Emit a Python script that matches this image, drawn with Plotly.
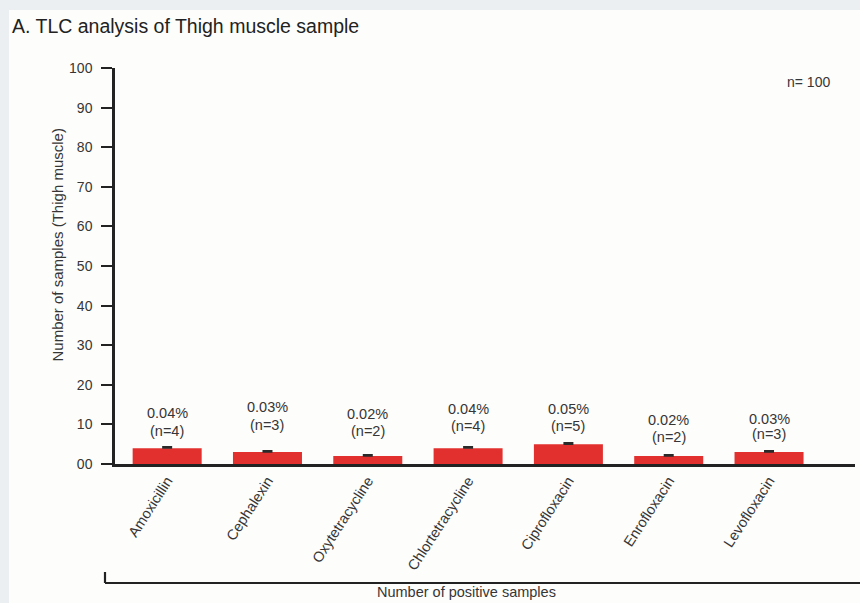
import plotly.graph_objects as go

# Antibiotic residues detected by TLC in thigh-muscle samples
drugs = ["Amoxicillin", "Cephalexin", "Oxytetracycline", "Chlortetracycline",
         "Ciprofloxacin", "Enrofloxacin", "Levofloxacin"]
positives = [4, 3, 2, 4, 5, 2, 3]
pct_labels = ["0.04%", "0.03%", "0.02%", "0.04%", "0.05%", "0.02%", "0.03%"]
err = [0.35, 0.35, 0.35, 0.35, 0.35, 0.35, 0.35]
y_ticks = [0, 10, 20, 30, 40, 50, 60, 70, 80, 90, 100]
y_ticktext = ["00", "10", "20", "30", "40", "50", "60", "70", "80", "90", "100"]

# label offsets above each bar top (px): percent line, count line
pct_lift = [35, 45, 42, 39, 35, 36, 33]
n_lift = [17, 27, 25, 22, 18, 19, 18]

W, H = 860, 603
L, R, T, B = 115, 5, 68, 139
PW, PH = W - L - R, H - T - B


def px(x):
    return (x - L) / PW


def py(y):
    return (H - B - y) / PH


FONT = "Liberation Sans, Arial, Helvetica, sans-serif"
INK = "#363636"
AX = "#222222"

fig = go.Figure()
fig.add_trace(go.Bar(
    x=list(range(len(drugs))),
    y=positives,
    width=0.688,
    marker=dict(color="#e2302e", line=dict(width=0)),
    error_y=dict(type="data", symmetric=False, array=err,
                 arrayminus=[0] * len(err), color="#2a2a2a", thickness=1.4, width=5),
    hoverinfo="skip",
))

annotations = []
for i, (v, p, lp, ln) in enumerate(zip(positives, pct_labels, pct_lift, n_lift)):
    annotations.append(dict(x=i, y=v, xref="x", yref="y", text=p, showarrow=False,
                            yanchor="middle", yshift=lp,
                            font=dict(family=FONT, size=14.5, color=INK)))
    annotations.append(dict(x=i, y=v, xref="x", yref="y", text=f"(n={v})", showarrow=False,
                            yanchor="middle", yshift=ln,
                            font=dict(family=FONT, size=14.5, color=INK)))

annotations += [
    dict(x=px(10), y=py(26), xref="paper", yref="paper", xanchor="left", yanchor="middle",
         text="A. TLC analysis of Thigh muscle sample", showarrow=False,
         font=dict(family=FONT, size=19.5, color="#222222")),
    dict(x=px(808), y=py(82), xref="paper", yref="paper", xanchor="center", yanchor="middle",
         text="n= 100", showarrow=False, font=dict(family=FONT, size=14, color=INK)),
    dict(x=px(56.5), y=py(245), xref="paper", yref="paper", xanchor="center", yanchor="middle",
         text="Number of samples (Thigh muscle)", textangle=-90, showarrow=False,
         font=dict(family=FONT, size=15, color=INK)),
    dict(x=px(466), y=py(602), xref="paper", yref="paper", xanchor="center", yanchor="bottom",
         text="Number of positive samples", showarrow=False,
         font=dict(family=FONT, size=14.5, color=INK)),
]

shapes = [
    # white page panel inside the grey frame
    dict(type="rect", xref="paper", yref="paper", x0=px(9), x1=px(W + 5),
         y0=py(H + 5), y1=py(10), fillcolor="#fdfdfb", line=dict(width=0), layer="below"),
    # bracket under the category labels
    dict(type="line", xref="paper", yref="paper", x0=px(105), x1=px(W + 5),
         y0=py(583), y1=py(583), line=dict(color=AX, width=2.2)),
    dict(type="line", xref="paper", yref="paper", x0=px(105), x1=px(105),
         y0=py(572), y1=py(583), line=dict(color=AX, width=2.2)),
]

fig.update_layout(
    width=W, height=H,
    margin=dict(l=L, r=R, t=T, b=B),
    paper_bgcolor="#eceff2",
    plot_bgcolor="#fdfdfb",
    showlegend=False,
    annotations=annotations,
    shapes=shapes,
    xaxis=dict(
        range=[-0.52, 6.857],
        tickmode="array", tickvals=list(range(len(drugs))), ticktext=drugs,
        tickangle=-57, ticks="", showgrid=False, zeroline=False,
        showline=True, linecolor=AX, linewidth=2.5,
        tickfont=dict(family=FONT, size=14.5, color=INK),
    ),
    yaxis=dict(
        range=[0, 100],
        tickmode="array", tickvals=y_ticks, ticktext=y_ticktext,
        ticks="outside", ticklen=11, tickwidth=2, tickcolor=AX,
        ticklabelstandoff=6,
        showgrid=False, zeroline=False,
        showline=True, linecolor=AX, linewidth=2.5,
        tickfont=dict(family=FONT, size=14, color=INK),
    ),
)

fig.write_html("out.html")
